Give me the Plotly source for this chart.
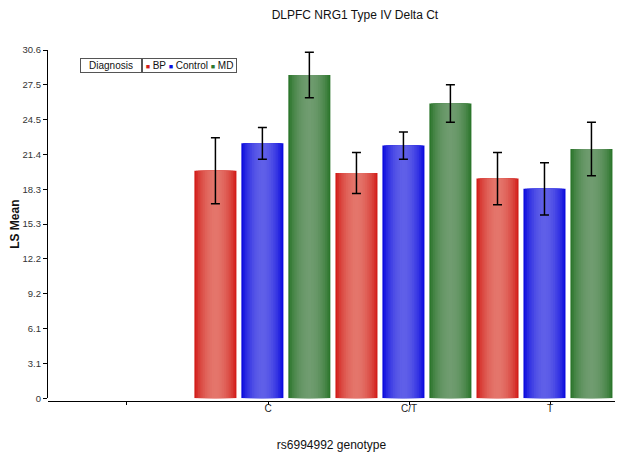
import plotly.graph_objects as go
import numpy as np

# ---- data ----
genotypes = [" ", "C", "C/T", "T"]
diagnoses = ["BP", "Control", "MD"]
bp_mean = [None, 20.0, 19.8, 19.3]
bp_err = [None, 2.9, 1.8, 2.3]
control_mean = [None, 22.4, 22.2, 18.4]
control_err = [None, 1.4, 1.2, 2.3]
md_mean = [None, 28.4, 25.9, 21.9]
md_err = [None, 2.0, 1.65, 2.35]
y_tick_labels = ["0", "3.1", "6.1", "9.2", "12.2", "15.3", "18.3", "21.4", "24.5", "27.5", "30.6"]
y_max = 30.6

means = [bp_mean, control_mean, md_mean]
errs = [bp_err, control_err, md_err]

# ---- style ----
edge_cols = [(210, 30, 26), (12, 12, 222), (44, 118, 44)]
center_cols = [(228, 118, 108), (96, 96, 232), (112, 156, 112)]
group_shift = -0.04
step = 0.333
bar_w = 0.298
n_layers = 12

def mix(a, b, t):
    return "rgb(%d,%d,%d)" % tuple(int(round(a[k] + (b[k] - a[k]) * t)) for k in range(3))

fig = go.Figure()
for s in range(3):
    center = group_shift + (s - 1) * step
    for i in range(n_layers):
        frac = i / n_layers
        w = bar_w * (1 - frac)
        t = np.sin(frac * np.pi / 2) ** 0.8
        last = i == n_layers - 1
        fig.add_trace(go.Bar(
            x=genotypes, y=means[s], width=w, offset=center - w / 2,
            marker=dict(color=mix(edge_cols[s], center_cols[s], t), line=dict(width=0)),
            error_y=dict(type="data", array=errs[s], color="black", thickness=1.5, width=4.5, visible=last),
            showlegend=False, name=diagnoses[s], hoverinfo="skip" if not last else None,
        ))

tickvals = [y_max * k / (len(y_tick_labels) - 1) for k in range(len(y_tick_labels))]

legend_html = "&nbsp;".join(
    "<span style='font-size:7px;color:%s'>■</span>&nbsp;%s" % (mix(edge_cols[s], edge_cols[s], 0), d)
    for s, d in enumerate(diagnoses)
)

fig.update_layout(
    width=624, height=458,
    margin=dict(l=40, r=17, t=42, b=65, autoexpand=False),
    paper_bgcolor="white", plot_bgcolor="white",
    barmode="overlay",
    font=dict(family="Liberation Sans, Arial, sans-serif", color="#222"),
    title=dict(text="DLPFC NRG1 Type IV Delta Ct", x=0.556, xanchor="center", y=0.985, yanchor="middle",
               font=dict(size=12, color="#111"), automargin=False),
    xaxis=dict(
        type="category", categoryorder="array", categoryarray=genotypes,
        range=[-0.56, 3.46], showline=True, linecolor="black", linewidth=1.3,
        ticks="outside", ticklen=3, tickcolor="black", tickfont=dict(size=10, color="#222"),
        ticklabelstandoff=-5,
        anchor="free", position=0, showgrid=False, zeroline=False, automargin=False,
        title=dict(text="rs6994992 genotype", font=dict(size=12, color="#111"), standoff=27),
    ),
    yaxis=dict(
        range=[0, y_max], domain=[0.0077, 1], showline=True, linecolor="black", linewidth=1.2,
        tickmode="array", tickvals=tickvals, ticktext=y_tick_labels,
        ticks="outside", ticklen=4, tickcolor="black", tickfont=dict(size=9.5, color="#333"),
        showgrid=False, zeroline=False, automargin=False,
        title=dict(text="<b>LS Mean</b>", font=dict(size=12, color="#111"), standoff=12),
    ),
    showlegend=False,
    annotations=[
        dict(text="Diagnosis", xref="paper", yref="paper", x=0.0564, y=0.977, xanchor="left", yanchor="top",
             showarrow=False, font=dict(size=10, color="#111"), width=60, height=13,
             bordercolor="#555", borderwidth=1, borderpad=0, bgcolor="white"),
        dict(text=legend_html, xref="paper", yref="paper", x=0.1658, y=0.977, xanchor="left", yanchor="top",
             showarrow=False, font=dict(size=10, color="#111"), width=93, height=13, align="center",
             bordercolor="#555", borderwidth=1, borderpad=0, bgcolor="white"),
    ],
)

fig.write_html("out.html")
